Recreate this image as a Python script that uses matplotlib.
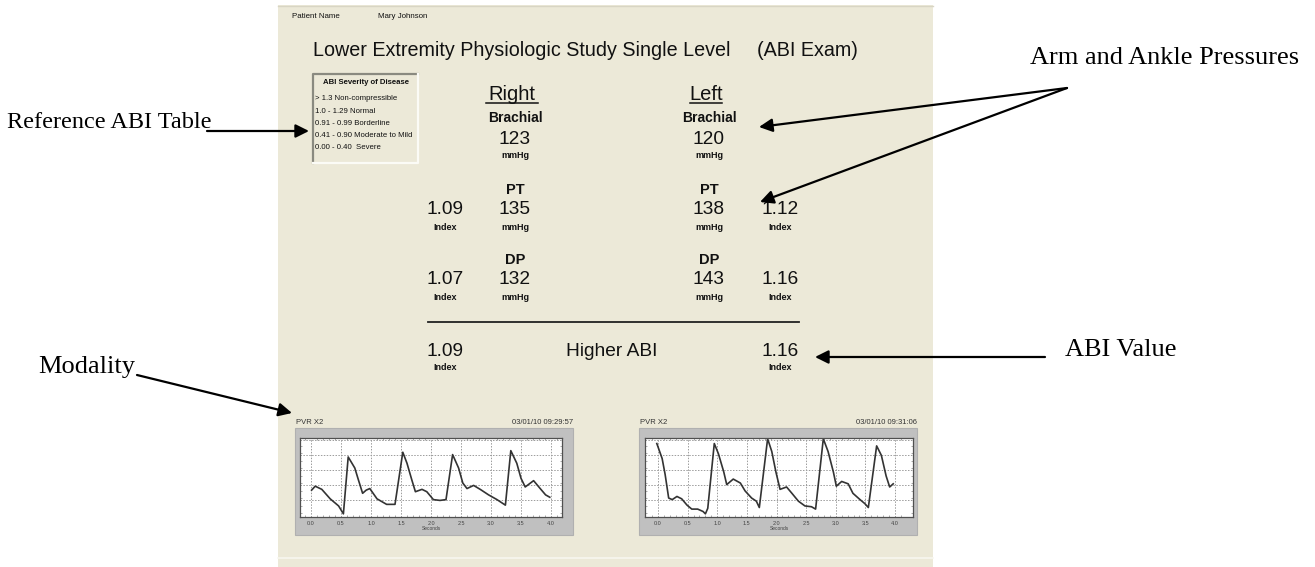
import numpy as np
import matplotlib.pyplot as plt
from matplotlib.patches import Rectangle

plt.rcParams['font.family'] = ['Liberation Sans', 'DejaVu Sans']

W, H = 1315, 567

# --- report content ---
patient_label = "Patient Name"
patient_name = "Mary Johnson"
title = "Lower Extremity Physiologic Study Single Level"
exam = "(ABI Exam)"
severity_title = "ABI Severity of Disease"
severity_rows = ["> 1.3 Non-compressible", "1.0 - 1.29 Normal",
                 "0.91 - 0.99 Borderline", "0.41 - 0.90 Moderate to Mild",
                 "0.00 - 0.40  Severe"]

sides = ["Right", "Left"]
brachial = [123, 120]
pt_pressure = [135, 138]
pt_index = [1.09, 1.12]
dp_pressure = [132, 143]
dp_index = [1.07, 1.16]
higher_abi = [1.09, 1.16]

pvr_label = "PVR X2"
pvr_stamps = ["03/01/10 09:29:57", "03/01/10 09:31:06"]
pvr_ticks = [0.0, 0.5, 1.0, 1.5, 2.0, 2.5, 3.0, 3.5, 4.0]

# waveform under "Right" (seconds, fraction of plot height)
right_pvr_t = [0.01, 0.07, 0.18, 0.32, 0.46, 0.54, 0.62, 0.73, 0.79, 0.86, 0.92,
               0.98, 1.10, 1.26, 1.40, 1.53, 1.60, 1.68, 1.74, 1.85, 1.93, 2.04,
               2.15, 2.25, 2.36, 2.46, 2.53, 2.60, 2.71, 2.82, 2.96, 3.10, 3.24,
               3.33, 3.43, 3.50, 3.57, 3.71, 3.82, 3.91, 3.98]
right_pvr_amp = [0.34, 0.39, 0.35, 0.23, 0.14, 0.04, 0.76, 0.62, 0.47, 0.30, 0.34,
                 0.36, 0.23, 0.16, 0.16, 0.82, 0.68, 0.47, 0.32, 0.35, 0.32, 0.22,
                 0.21, 0.22, 0.79, 0.62, 0.43, 0.36, 0.40, 0.35, 0.28, 0.22, 0.15,
                 0.84, 0.68, 0.49, 0.38, 0.46, 0.36, 0.28, 0.25]

# waveform under "Left"
left_pvr_t = [-0.02, 0.07, 0.12, 0.18, 0.24, 0.32, 0.40, 0.49, 0.57, 0.67, 0.76,
              0.80, 0.84, 0.95, 1.02, 1.11, 1.16, 1.27, 1.39, 1.47, 1.58, 1.66,
              1.71, 1.85, 1.92, 1.99, 2.06, 2.17, 2.26, 2.37, 2.48, 2.59, 2.66,
              2.79, 2.87, 2.96, 3.01, 3.10, 3.21, 3.29, 3.41, 3.49, 3.55, 3.69,
              3.77, 3.85, 3.91, 3.97]
left_pvr_amp = [0.93, 0.74, 0.54, 0.24, 0.22, 0.26, 0.23, 0.15, 0.10, 0.10, 0.07,
                0.04, 0.11, 0.93, 0.80, 0.57, 0.41, 0.48, 0.43, 0.33, 0.24, 0.20,
                0.12, 0.99, 0.83, 0.57, 0.35, 0.38, 0.30, 0.20, 0.14, 0.13, 0.10,
                0.99, 0.83, 0.57, 0.39, 0.45, 0.42, 0.30, 0.22, 0.17, 0.12, 0.90,
                0.78, 0.52, 0.38, 0.42]

callouts = ["Reference ABI Table", "Modality", "Arm and Ankle Pressures", "ABI Value"]

PANEL = '#ECE9D8'
INK = '#111111'


def pix_axes(fig, x0, y0, x1, y1):
    # pixel box (top-left origin) -> figure axes
    return fig.add_axes([x0 / W, 1 - y1 / H, (x1 - x0) / W, (y1 - y0) / H])


fig = plt.figure(figsize=(W / 100, H / 100), dpi=100)
ax = fig.add_axes([0, 0, 1, 1])
ax.set_xlim(0, W)
ax.set_ylim(H, 0)
ax.axis('off')

# report window
ax.add_patch(Rectangle((278, 5), 655, 570, facecolor=PANEL, edgecolor='none'))
ax.plot([278, 933], [5.5, 5.5], color='#d8d5c4', lw=1)
ax.plot([278, 933], [558, 558], color='#f8f7f0', lw=1.2)

ax.text(292, 17, patient_label, fontsize=5.7, va='center', color=INK)
ax.text(378, 17, patient_name, fontsize=5.7, va='center', color=INK)
ax.text(313, 51, title, fontsize=14.2, va='center', color=INK)
ax.text(757, 51, exam, fontsize=14.2, va='center', color=INK)

# severity table with sunken border
ax.plot([313, 313, 418], [163, 74, 74], color='#8a8a80', lw=1.6)
ax.plot([313, 418, 418], [163, 163, 74], color='#fbfbf6', lw=1.6)
ax.text(366, 83, severity_title, fontsize=5.6, weight='bold', ha='center',
        va='center', color=INK)
for i, row in enumerate(severity_rows):
    ax.text(315, 99 + i * 12.2, row, fontsize=5.6, va='center', color=INK)

# pressures and indices
press_x = [515, 709]
index_x = [445, 780]
for k in range(2):
    px, ix = press_x[k], index_x[k]
    ax.text(px - 3, 95, sides[k], fontsize=14.5, ha='center', va='center', color=INK)
    half = {0: 26, 1: 16}[k]
    ax.plot([px - 3 - half, px - 3 + half], [102.5, 102.5], color=INK, lw=1.1)
    ax.text(px, 118, "Brachial", fontsize=10, weight='bold', ha='center', va='center', color=INK)
    ax.text(px, 139, f"{brachial[k]}", fontsize=13.8, ha='center', va='center', color=INK)
    ax.text(px, 155, "mmHg", fontsize=6.5, weight='bold', ha='center', va='center', color=INK)

    ax.text(px, 190, "PT", fontsize=10.5, weight='bold', ha='center', va='center', color=INK)
    ax.text(px, 209, f"{pt_pressure[k]}", fontsize=13.8, ha='center', va='center', color=INK)
    ax.text(px, 227, "mmHg", fontsize=6.5, weight='bold', ha='center', va='center', color=INK)
    ax.text(ix, 209, f"{pt_index[k]:.2f}", fontsize=13.8, ha='center', va='center', color=INK)
    ax.text(ix, 227, "Index", fontsize=6.5, weight='bold', ha='center', va='center', color=INK)

    ax.text(px, 260, "DP", fontsize=10.5, weight='bold', ha='center', va='center', color=INK)
    ax.text(px, 280, f"{dp_pressure[k]}", fontsize=13.8, ha='center', va='center', color=INK)
    ax.text(px, 298, "mmHg", fontsize=6.5, weight='bold', ha='center', va='center', color=INK)
    ax.text(ix, 280, f"{dp_index[k]:.2f}", fontsize=13.8, ha='center', va='center', color=INK)
    ax.text(ix, 298, "Index", fontsize=6.5, weight='bold', ha='center', va='center', color=INK)

    ax.text(ix, 351, f"{higher_abi[k]:.2f}", fontsize=13.8, ha='center', va='center', color=INK)
    ax.text(ix, 368, "Index", fontsize=6.5, weight='bold', ha='center', va='center', color=INK)

ax.plot([428, 799], [322, 322], color='#222222', lw=1.3)
ax.text(612, 351, "Higher ABI", fontsize=13.8, ha='center', va='center', color=INK)

# PVR waveforms
frames = [(295, 573, 300, 562, 311, 551), (639, 917, 645, 913, 658, 895)]
waves = [(right_pvr_t, right_pvr_amp), (left_pvr_t, left_pvr_amp)]
for k, (fx0, fx1, wx0, wx1, t0px, t4px) in enumerate(frames):
    ax.text(fx0 + 1, 423, pvr_label, fontsize=5.5, va='center', color='#333333')
    ax.text(fx1, 423, pvr_stamps[k], fontsize=5.5, ha='right', va='center', color='#333333')
    ax.add_patch(Rectangle((fx0, 428), fx1 - fx0, 107, facecolor='#c0c0c0',
                           edgecolor='#b0b0b0', lw=0.8))
    wax = pix_axes(fig, wx0, 438, wx1, 517)
    sec = (t4px - t0px) / 4.0
    wax.set_xlim((wx0 - t0px) / sec, (wx1 - t0px) / sec)
    wax.set_ylim(0, 1)
    wax.set_facecolor('white')
    for s in wax.spines.values():
        s.set_color('#505050')
        s.set_linewidth(0.9)
    wax.set_xticks(pvr_ticks)
    wax.set_xticklabels([f"{v:.1f}" for v in pvr_ticks], fontsize=4, color='#444444')
    wax.set_yticks([0.21, 0.40, 0.59, 0.78, 0.97])
    wax.set_yticklabels([])
    wax.set_xticks(np.arange(-0.1, 4.2, 0.1), minor=True)
    wax.set_yticks(np.arange(0.05, 1.0, 0.095), minor=True)
    wax.tick_params(which='major', length=0, pad=3)
    wax.tick_params(which='minor', direction='in', length=1.5, width=0.5,
                    color='#888888', top=True, right=True)
    wax.grid(True, which='major', color='#9c9c9c', lw=0.7, linestyle=(0, (1.5, 1.5)))
    wax.set_xlabel("Seconds", fontsize=3.5, labelpad=0, color='#444444')
    wt, wa = waves[k]
    wax.plot(wt, wa, color='#333333', lw=1.2)

# callout labels and arrows (outside the report)
serif = ['Liberation Serif', 'DejaVu Serif']
arrow = dict(arrowstyle='-|>', color='black', lw=1.6, mutation_scale=20, shrinkA=0, shrinkB=0)
ax.text(7, 123, callouts[0], fontsize=17.5, family=serif, va='center', color='black')
ax.annotate('', xy=(309, 131), xytext=(207, 131), arrowprops=arrow)
ax.text(38, 367, callouts[1], fontsize=19, family=serif, va='center', color='black')
ax.annotate('', xy=(292, 413), xytext=(137, 375), arrowprops=arrow)
ax.text(1030, 58, callouts[2], fontsize=19, family=serif, va='center', color='black')
ax.annotate('', xy=(759, 127), xytext=(1067, 88), arrowprops=arrow)
ax.annotate('', xy=(760, 202), xytext=(1067, 88), arrowprops=arrow)
ax.text(1065, 350, callouts[3], fontsize=19, family=serif, va='center', color='black')
ax.annotate('', xy=(815, 357), xytext=(1045, 357), arrowprops=arrow)

fig.savefig('out.png', dpi=100, facecolor='white')
